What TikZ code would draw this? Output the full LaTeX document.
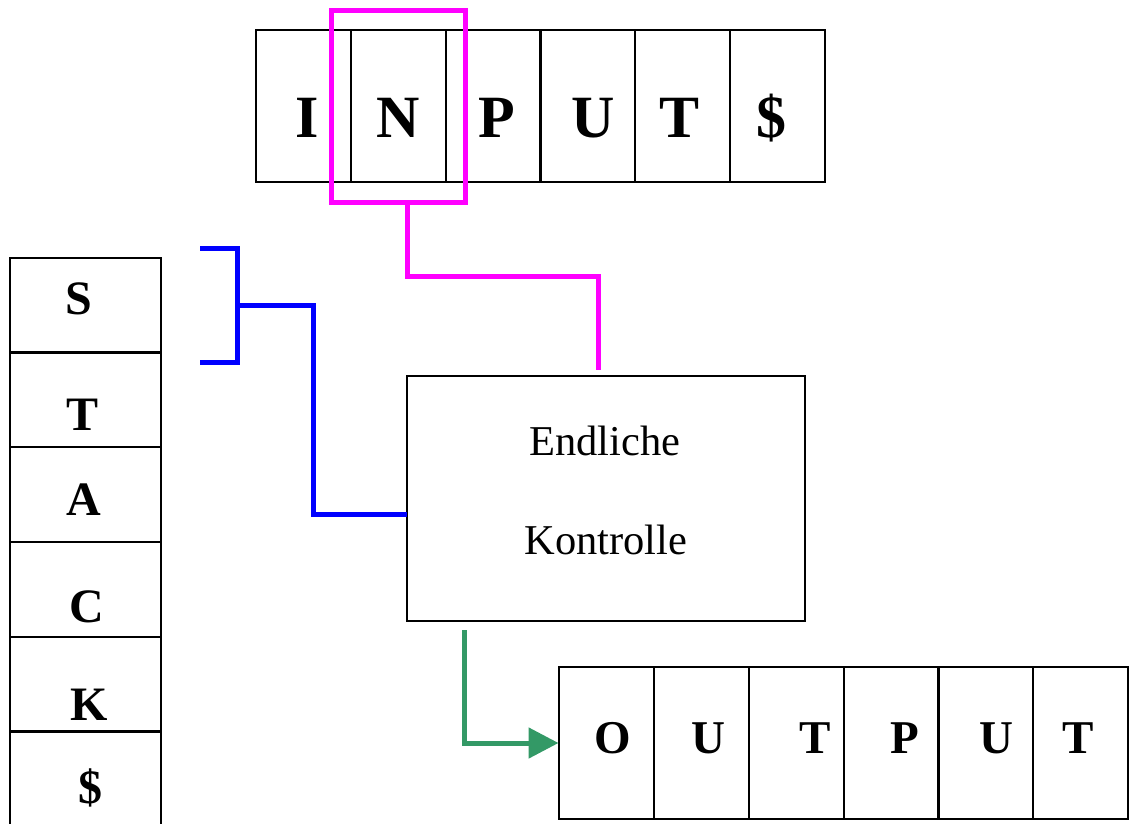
\documentclass[tikz,border=0pt]{standalone}
\usepackage{fontspec}
\setmainfont{Liberation Serif}
\usetikzlibrary{arrows.meta}
\definecolor{grn}{RGB}{51,153,102}
\definecolor{mgt}{RGB}{255,0,255}
\begin{document}
\begin{tikzpicture}[x=1pt,y=-1pt,
  cell/.style={draw=black,line width=2pt,inner sep=0pt,outer sep=0pt,minimum width=95pt,minimum height=152pt},
  scell/.style={draw=black,line width=2pt,inner sep=0pt,outer sep=0pt,minimum width=151pt,minimum height=95pt},
  big/.style={font=\fontsize{60}{60}\selectfont\bfseries,anchor=base,inner sep=0pt},
  mid/.style={font=\fontsize{47}{47}\selectfont\bfseries,anchor=base,inner sep=0pt},
  stk/.style={font=\fontsize{48}{48}\selectfont\bfseries,anchor=base,inner sep=0pt},
  ctext/.style={font=\fontsize{42.5}{42.5}\selectfont,anchor=base,inner sep=0pt},
  mag/.style={draw=mgt,line width=5pt},
  blu/.style={draw=blue,line width=5pt},
  gr/.style={draw=grn,line width=5pt}]
\useasboundingbox (0,0) rectangle (1129,823);
% input tape
\foreach \i/\x in {1/303.5,2/398.5,3/493,4/587.5,5/682.5,6/777.5}
  \node[cell] (in\i) at (\x,106) {};
\node[big] (li1) at (307,137) {I};
\node[big] (li2) at (398,137) {N};
\node[big] (li3) at (497,137) {P};
\node[big] (li4) at (593,137) {U};
\node[big] (li5) at (680,137) {T};
\node[big] (li6) at (771,137) {\$};
% highlight
\node[mag,inner sep=0pt,outer sep=0pt,minimum width=134pt,minimum height=192pt] (hl) at (398,106) {};
% stack
\foreach \i/\y in {1/305,2/399.5,3/494.5,4/589.5,5/684,6/778.5}
  \node[scell] (st\i) at (85.5,\y) {};
\node[stk] (ls1) at (79,314) {S};
\node[stk] (ls2) at (83,430) {T};
\node[stk] (ls3) at (84,515) {A};
\node[stk] (ls4) at (87,622) {C};
\node[stk] (ls5) at (89,720) {K};
\node[stk] (ls6) at (90,803) {\$};
% control
\node[draw=black,line width=2pt,inner sep=0pt,outer sep=0pt,minimum width=398pt,minimum height=245pt] (ctrl) at (606,498.5) {};
\node[ctext] (t1) at (605,455) {Endliche};
\node[ctext] (t2) at (606,554) {Kontrolle};
% output tape
\foreach \i/\x in {1/606,2/701.5,3/796.5,4/891,5/985.5,6/1080}
  \node[cell] (out\i) at (\x,743) {};
\node[mid] (lo1) at (613,753) {O};
\node[mid] (lo2) at (708,753) {U};
\node[mid] (lo3) at (815,753) {T};
\node[mid] (lo4) at (905,753) {P};
\node[mid] (lo5) at (996,753) {U};
\node[mid] (lo6) at (1078,753) {T};
% magenta connector
\coordinate (m0) at (407,202);
\coordinate (m1) at (598,370);
\draw[mag] (m0) -- (407,276) -| (m1);
% blue bracket
\coordinate (bt) at (200,248);
\coordinate (bb) at (200,362);
\coordinate (bj) at (237,305);
\draw[blu] (bt) -- (237,248) -- (237,362) -- (bb);
\draw[blu] (bj) -- (313,305) -- (313,514) -- (ctrl.west |- 313,514);
% green arrow
\coordinate (g0) at (464,630);
\draw[gr,-{Triangle[length=30pt,width=30pt]}] (g0) |- (out1.west);
\end{tikzpicture}
\end{document}
